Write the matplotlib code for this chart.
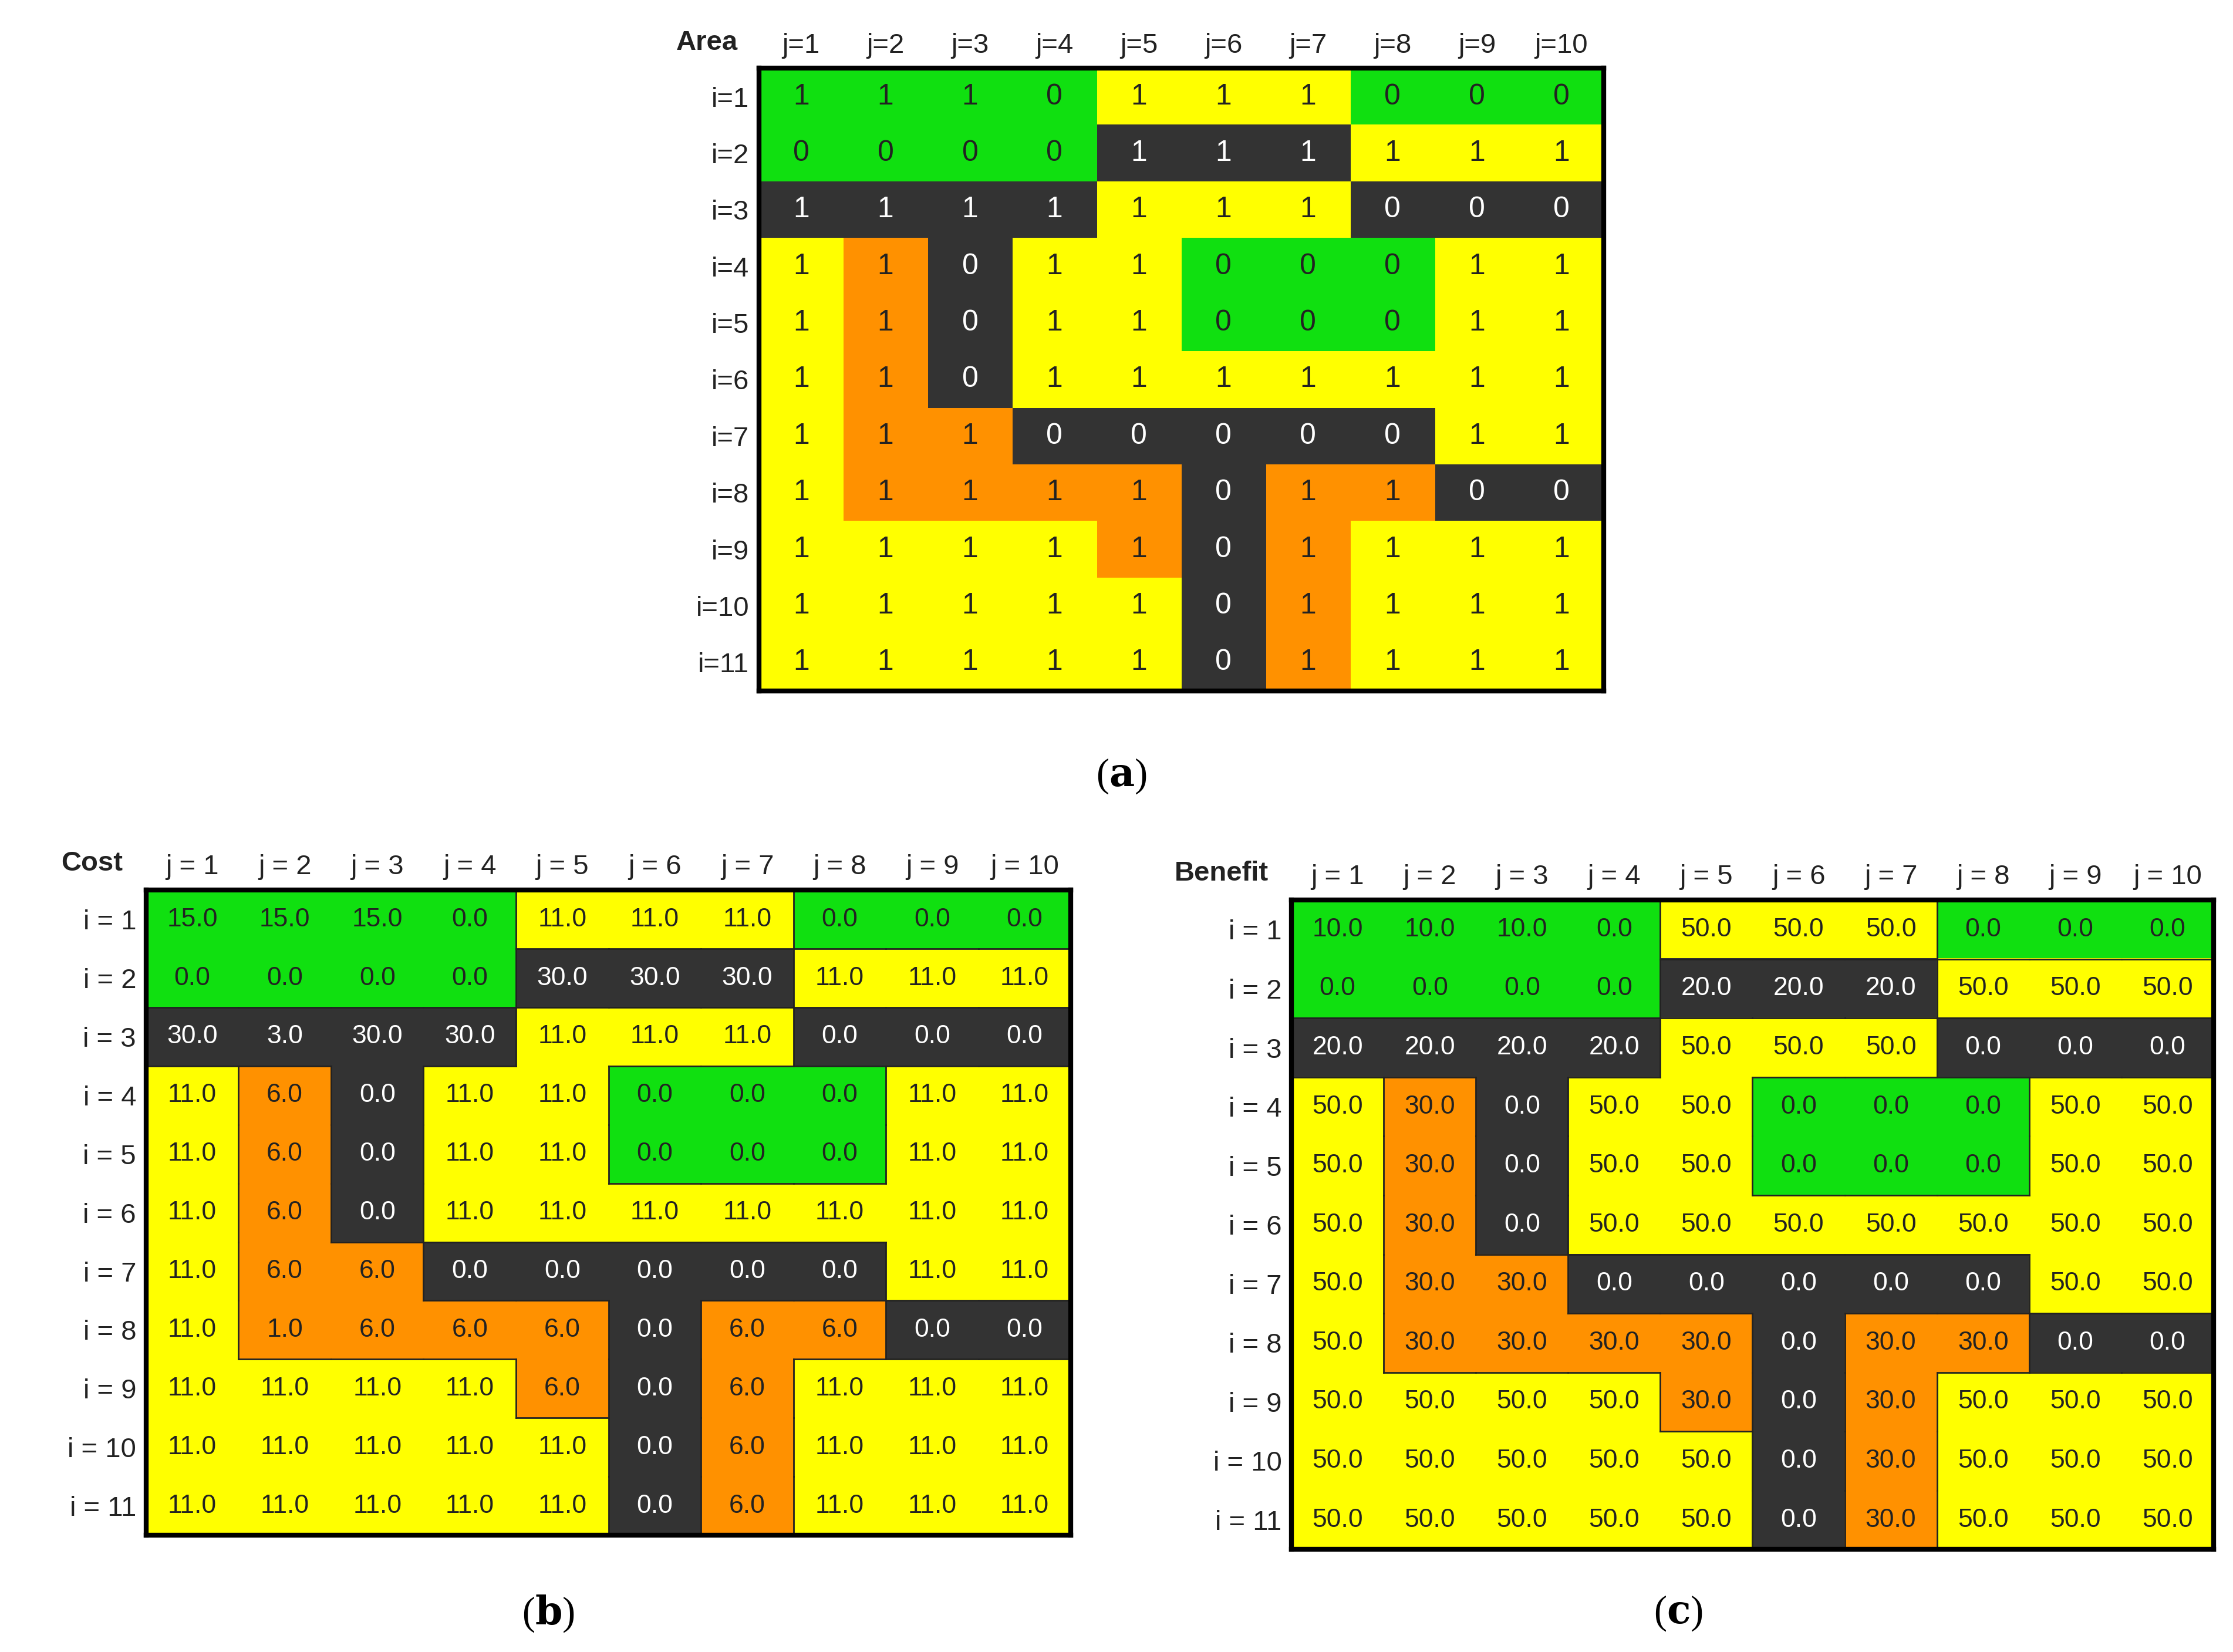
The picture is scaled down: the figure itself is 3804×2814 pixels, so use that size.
import numpy as np
import matplotlib.pyplot as plt
from matplotlib.colors import ListedColormap

# region category per cell: 0 green, 1 yellow, 2 dark, 3 orange
regions = [
    "GGGGYYYGGG",
    "GGGGKKKYYY",
    "KKKKYYYKKK",
    "YOKYYGGGYY",
    "YOKYYGGGYY",
    "YOKYYYYYYY",
    "YOOKKKKKYY",
    "YOOOOKOOKK",
    "YYYYOKOYYY",
    "YYYYYKOYYY",
    "YYYYYKOYYY",
]
area = [
    [1, 1, 1, 0, 1, 1, 1, 0, 0, 0],
    [0, 0, 0, 0, 1, 1, 1, 1, 1, 1],
    [1, 1, 1, 1, 1, 1, 1, 0, 0, 0],
    [1, 1, 0, 1, 1, 0, 0, 0, 1, 1],
    [1, 1, 0, 1, 1, 0, 0, 0, 1, 1],
    [1, 1, 0, 1, 1, 1, 1, 1, 1, 1],
    [1, 1, 1, 0, 0, 0, 0, 0, 1, 1],
    [1, 1, 1, 1, 1, 0, 1, 1, 0, 0],
    [1, 1, 1, 1, 1, 0, 1, 1, 1, 1],
    [1, 1, 1, 1, 1, 0, 1, 1, 1, 1],
    [1, 1, 1, 1, 1, 0, 1, 1, 1, 1],
]
cost = [
    [15, 15, 15, 0, 11, 11, 11, 0, 0, 0],
    [0, 0, 0, 0, 30, 30, 30, 11, 11, 11],
    [30, 3, 30, 30, 11, 11, 11, 0, 0, 0],
    [11, 6, 0, 11, 11, 0, 0, 0, 11, 11],
    [11, 6, 0, 11, 11, 0, 0, 0, 11, 11],
    [11, 6, 0, 11, 11, 11, 11, 11, 11, 11],
    [11, 6, 6, 0, 0, 0, 0, 0, 11, 11],
    [11, 1, 6, 6, 6, 0, 6, 6, 0, 0],
    [11, 11, 11, 11, 6, 0, 6, 11, 11, 11],
    [11, 11, 11, 11, 11, 0, 6, 11, 11, 11],
    [11, 11, 11, 11, 11, 0, 6, 11, 11, 11],
]
benefit = [
    [10, 10, 10, 0, 50, 50, 50, 0, 0, 0],
    [0, 0, 0, 0, 20, 20, 20, 50, 50, 50],
    [20, 20, 20, 20, 50, 50, 50, 0, 0, 0],
    [50, 30, 0, 50, 50, 0, 0, 0, 50, 50],
    [50, 30, 0, 50, 50, 0, 0, 0, 50, 50],
    [50, 30, 0, 50, 50, 50, 50, 50, 50, 50],
    [50, 30, 30, 0, 0, 0, 0, 0, 50, 50],
    [50, 30, 30, 30, 30, 0, 30, 30, 0, 0],
    [50, 50, 50, 50, 30, 0, 30, 50, 50, 50],
    [50, 50, 50, 50, 30, 0, 30, 50, 50, 50],
    [50, 50, 50, 50, 50, 0, 30, 50, 50, 50],
]
benefit[9][4] = 50
cols_a = ["j=%d" % j for j in range(1, 11)]
rows_a = ["i=%d" % i for i in range(1, 12)]
cols_b = ["j = %d" % j for j in range(1, 11)]
rows_b = ["i = %d" % i for i in range(1, 12)]

code = {"G": 0, "Y": 1, "K": 2, "O": 3}
cat = np.array([[code[c] for c in r] for r in regions])
cmap = ListedColormap(["#10E010", "#FFFF00", "#333333", "#FF9100"])

W, H = 1560, 1160
fig = plt.figure(figsize=(38.05, 28.14), dpi=100)
plt.rcParams["font.family"] = "Liberation Sans"


def panel(box, vals, fmt, cols, rows, corner, fs, lfs, borders):
    x0, y0, x1, y1 = box
    ax = fig.add_axes([x0 / W, 1 - y1 / H, (x1 - x0) / W, (y1 - y0) / H])
    ax.imshow(cat, cmap=cmap, vmin=-0.5, vmax=3.5, aspect="auto")
    for i in range(11):
        for j in range(10):
            c = "white" if cat[i, j] == 2 else "#222222"
            ax.text(j, i, fmt(vals[i][j]), ha="center", va="center", fontsize=fs, color=c)
    if borders:
        for i in range(11):
            for j in range(10):
                if j < 9 and cat[i, j] != cat[i, j + 1]:
                    ax.plot([j + 0.5, j + 0.5], [i - 0.5, i + 0.5], color="#222222", lw=2)
                if i < 10 and cat[i, j] != cat[i + 1, j]:
                    ax.plot([j - 0.5, j + 0.5], [i + 0.5, i + 0.5], color="#222222", lw=2)
    ax.set_xticks(range(10))
    ax.set_xticklabels(cols, fontsize=lfs, color="#222222")
    ax.set_yticks(range(11))
    ax.set_yticklabels(rows, fontsize=lfs, color="#222222")
    ax.xaxis.tick_top()
    ax.tick_params(length=0, pad=12)
    for s in ax.spines.values():
        s.set_linewidth(6)
    ax.text(-0.75, -0.95, corner, ha="right", va="center", fontsize=lfs, fontweight="bold", color="#222222")
    ax.set_xlim(-0.5, 9.5)
    ax.set_ylim(10.5, -0.5)
    return ax


panel((530, 48, 1120, 485), area, lambda v: "%d" % v, cols_a, rows_a, "Area", 36, 34, False)
panel((102, 625, 748, 1078), cost, lambda v: "%.1f" % v, cols_b, rows_b, "Cost", 32, 34, True)
panel((902, 632, 1546, 1088), benefit, lambda v: "%.1f" % v, cols_b, rows_b, "Benefit", 32, 34, True)

plt.rcParams["mathtext.fontset"] = "dejavuserif"
for lab, x, y in [("a", 783, 545), ("b", 383, 1133), ("c", 1172, 1133)]:
    fig.text(x / W, 1 - y / H, "(" + r"$\mathbf{%s}$" % lab + ")", ha="center", va="center",
             fontsize=48, family="Liberation Serif")

fig.savefig("out.png", dpi=100)
